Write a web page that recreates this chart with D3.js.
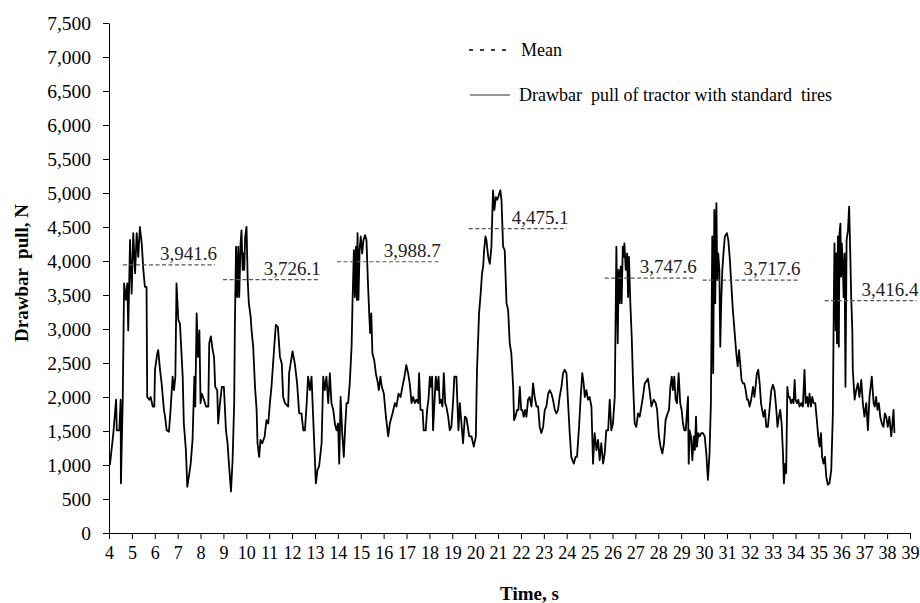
<!DOCTYPE html>
<html>
<head>
<meta charset="utf-8">
<script src="https://cdn.jsdelivr.net/npm/d3@7"></script>
<style>
  body { margin: 0; background: #fff; }
  svg text { white-space: pre; }
</style>
</head>
<body>
<svg id="chart"></svg>
<script>
let width = 920
let height = 603
const serif = "'Liberation Serif', 'Times New Roman', 'DejaVu Serif', serif"

// x axis ticks (s) and y axis ticks (N)
const timeTicks = d3.range(4, 40)
const pullTicks = d3.range(0, 7501, 500)

// mean drawbar pull for each pass: [start s, end s, mean N]
const meanStart = [4.61, 8.98, 13.96, 19.72, 25.66, 29.94, 35.27]
const meanEnd = [8.63, 13.17, 18.41, 24.0, 29.59, 34.13, 39.28]
const meanValue = [3941.6, 3726.1, 3988.7, 4475.1, 3747.6, 3717.6, 3416.4]

const legendLabels = ['Mean', 'Drawbar  pull of tractor with standard  tires']

// drawbar pull signal: [time s, pull N]
const pullSeries = [
  [4.04, 1000], [4.19, 1470], [4.31, 1960], [4.34, 1510], [4.45, 1510], [4.51, 1960],
  [4.52, 730], [4.6, 1960], [4.66, 3670], [4.74, 3430], [4.8, 3670], [4.84, 2980],
  [4.92, 4310], [4.99, 3520], [5.06, 4410], [5.14, 3820], [5.21, 4410], [5.28, 4060],
  [5.35, 4500], [5.43, 4260], [5.5, 3870], [5.57, 3620], [5.64, 3620], [5.67, 2000],
  [5.76, 1960], [5.82, 2000], [5.91, 1860], [5.98, 1860], [6.01, 2400], [6.11, 2640],
  [6.15, 2690], [6.23, 2400], [6.3, 2200], [6.4, 1810], [6.45, 1710], [6.52, 1510],
  [6.62, 1490], [6.69, 1810], [6.78, 2300], [6.84, 2100], [6.9, 2300], [6.95, 3670],
  [7.03, 3130], [7.1, 3080], [7.22, 2300], [7.27, 1610], [7.36, 1220], [7.42, 680],
  [7.51, 880], [7.57, 1020], [7.65, 1370], [7.73, 2300], [7.77, 1860], [7.83, 3230],
  [7.89, 2590], [7.95, 2980], [8.0, 1910], [8.05, 2050], [8.15, 1960], [8.24, 1860],
  [8.34, 1860], [8.38, 2790], [8.45, 2890], [8.53, 2690], [8.59, 2590], [8.64, 2150],
  [8.73, 2100], [8.77, 1610], [8.85, 1910], [8.93, 2150], [9.02, 2150], [9.11, 1510],
  [9.18, 1320], [9.24, 1020], [9.33, 610], [9.4, 1070], [9.47, 1910], [9.5, 3030],
  [9.55, 4210], [9.6, 3470], [9.65, 4210], [9.69, 3470], [9.75, 4260], [9.79, 4450],
  [9.84, 3870], [9.88, 4110], [9.91, 3870], [9.95, 4360], [10.01, 4500], [10.06, 3720],
  [10.11, 3380], [10.19, 3180], [10.23, 2980], [10.3, 2740], [10.38, 2150], [10.45, 1810],
  [10.49, 1320], [10.56, 1120], [10.62, 1370], [10.7, 1320], [10.8, 1420], [10.88, 1660],
  [10.96, 1610], [11.03, 1910], [11.1, 2150], [11.21, 2690], [11.29, 3060], [11.38, 3030],
  [11.47, 2590], [11.55, 2490], [11.61, 2000], [11.69, 1910], [11.83, 1860], [11.87, 2350],
  [12.02, 2670], [12.12, 2490], [12.22, 2200], [12.31, 1760], [12.41, 1760], [12.49, 1510],
  [12.56, 1510], [12.63, 1860], [12.7, 2300], [12.78, 2100], [12.85, 2300], [12.92, 1710],
  [13.04, 730], [13.11, 930], [13.18, 980], [13.29, 1320], [13.36, 2300], [13.43, 2100],
  [13.5, 2300], [13.58, 1910], [13.65, 2350], [13.72, 1910], [13.8, 1810], [13.87, 1610],
  [13.94, 1510], [14.01, 1610], [14.06, 1020], [14.12, 2000], [14.19, 1470], [14.26, 1120],
  [14.32, 1560], [14.38, 1910], [14.45, 1910], [14.52, 2200], [14.6, 2740], [14.64, 3380],
  [14.7, 4160], [14.74, 3470], [14.79, 4210], [14.83, 3430], [14.86, 4410], [14.9, 3430],
  [14.95, 4160], [15.0, 4360], [15.06, 4110], [15.12, 4310], [15.19, 4380], [15.25, 4310],
  [15.31, 3720], [15.37, 3230], [15.41, 2940], [15.46, 3230], [15.51, 2640], [15.59, 2540],
  [15.66, 2350], [15.75, 2200], [15.79, 2100], [15.86, 2300], [15.92, 2150], [16.01, 2050],
  [16.1, 1710], [16.2, 1420], [16.27, 1610], [16.39, 1760], [16.49, 1910], [16.56, 1860],
  [16.65, 2050], [16.74, 2000], [16.82, 2150], [16.91, 2300], [16.99, 2470], [17.07, 2350],
  [17.14, 2200], [17.22, 1910], [17.29, 2000], [17.36, 1910], [17.43, 1960], [17.51, 1910],
  [17.55, 2350], [17.61, 1810], [17.7, 1810], [17.75, 1510], [17.84, 1510], [17.9, 1810],
  [17.96, 1960], [18.02, 2300], [18.06, 2150], [18.12, 2300], [18.16, 1510], [18.22, 1910],
  [18.28, 2300], [18.34, 2100], [18.4, 2300], [18.45, 1910], [18.51, 1960], [18.57, 1860],
  [18.63, 2350], [18.69, 1910], [18.74, 1860], [18.82, 1710], [18.89, 1510], [18.96, 1560],
  [19.04, 1960], [19.09, 2300], [19.18, 2300], [19.27, 1510], [19.33, 1910], [19.47, 1320],
  [19.55, 1710], [19.62, 1690], [19.74, 1420], [19.84, 1420], [19.94, 1270], [20.03, 1420],
  [20.08, 2400], [20.17, 3230], [20.24, 3520], [20.3, 3820], [20.35, 3920], [20.39, 4160],
  [20.45, 4360], [20.49, 4310], [20.57, 4060], [20.64, 3960], [20.71, 4210], [20.75, 4700],
  [20.78, 5040], [20.84, 4750], [20.9, 4940], [20.97, 4900], [21.05, 4990], [21.1, 5040],
  [21.15, 4900], [21.22, 4210], [21.29, 4160], [21.37, 3380], [21.44, 3280], [21.51, 2790],
  [21.58, 2640], [21.66, 2150], [21.7, 1660], [21.76, 1710], [21.83, 1810], [21.89, 1810],
  [21.95, 2150], [22.01, 1810], [22.06, 1810], [22.12, 1710], [22.18, 1810], [22.24, 1710],
  [22.31, 1960], [22.38, 2000], [22.46, 1860], [22.53, 2200], [22.6, 2000], [22.68, 1860],
  [22.75, 1860], [22.82, 1560], [22.89, 1470], [22.97, 1560], [23.04, 1810], [23.11, 1860],
  [23.19, 2050], [23.26, 2100], [23.33, 2050], [23.4, 1960], [23.48, 1810], [23.55, 1760],
  [23.62, 1810], [23.69, 2000], [23.77, 2150], [23.84, 2350], [23.91, 2400], [23.99, 2350],
  [24.06, 1910], [24.13, 1470], [24.2, 1120], [24.31, 1020], [24.39, 1120], [24.45, 1120],
  [24.54, 1560], [24.61, 2000], [24.68, 2350], [24.74, 2200], [24.79, 2000], [24.86, 2100],
  [24.93, 1960], [25.0, 2000], [25.08, 1860], [25.15, 1020], [25.22, 1470], [25.3, 1220],
  [25.37, 1370], [25.44, 1070], [25.51, 1320], [25.59, 1020], [25.66, 1170], [25.73, 1510],
  [25.81, 1510], [25.88, 1960], [25.95, 1510], [26.02, 1610], [26.1, 2000], [26.17, 4210],
  [26.23, 2790], [26.27, 3870], [26.31, 3380], [26.36, 3920], [26.4, 3380], [26.45, 4210],
  [26.49, 4060], [26.52, 4260], [26.58, 3870], [26.64, 4110], [26.68, 3470], [26.72, 4060],
  [26.78, 3380], [26.84, 2890], [26.9, 2200], [26.97, 1610], [27.04, 1560], [27.12, 1760],
  [27.19, 1710], [27.33, 2000], [27.41, 2200], [27.55, 2270], [27.62, 2100], [27.7, 1860],
  [27.8, 1960], [27.89, 1910], [27.95, 1810], [28.03, 1420], [28.1, 1270], [28.18, 1170],
  [28.25, 1320], [28.32, 1660], [28.41, 1760], [28.47, 1810], [28.53, 2150], [28.59, 2300],
  [28.64, 2100], [28.7, 2300], [28.76, 1960], [28.82, 1910], [28.89, 2350], [28.96, 1910],
  [29.02, 1810], [29.08, 1610], [29.14, 1510], [29.2, 1510], [29.26, 1810], [29.3, 2000],
  [29.33, 1020], [29.37, 1510], [29.43, 1420], [29.49, 1070], [29.55, 1420], [29.6, 1220],
  [29.65, 1710], [29.69, 1270], [29.75, 1470], [29.81, 1420], [29.88, 1470], [29.95, 1470],
  [30.03, 1420], [30.1, 1170], [30.17, 780], [30.24, 1170], [30.3, 1910], [30.36, 4360],
  [30.4, 2350], [30.45, 4750], [30.49, 3380], [30.54, 4850], [30.58, 3720], [30.62, 4110],
  [30.67, 3870], [30.71, 2740], [30.75, 3380], [30.8, 3870], [30.86, 4160], [30.91, 4360],
  [31.0, 4410], [31.06, 4310], [31.12, 4060], [31.19, 3670], [31.26, 3280], [31.34, 2940],
  [31.41, 2640], [31.47, 2450], [31.53, 2690], [31.58, 2490], [31.64, 2250], [31.7, 2200],
  [31.76, 2200], [31.82, 2100], [31.88, 1960], [31.93, 1960], [31.99, 1860], [32.06, 1960],
  [32.14, 2150], [32.2, 2000], [32.25, 2150], [32.31, 2350], [32.37, 2400], [32.43, 2200],
  [32.49, 1910], [32.54, 1810], [32.6, 1710], [32.66, 1810], [32.72, 1560], [32.79, 1560],
  [32.86, 1810], [32.94, 2100], [33.01, 2180], [33.08, 2100], [33.16, 1810], [33.21, 1560],
  [33.27, 1710], [33.33, 1810], [33.39, 1610], [33.45, 1170], [33.49, 730], [33.55, 1020],
  [33.59, 880], [33.64, 2150], [33.69, 2000], [33.74, 2000], [33.8, 1910], [33.85, 1960],
  [33.91, 1910], [33.96, 2250], [34.0, 1960], [34.06, 1910], [34.12, 1960], [34.17, 1860],
  [34.25, 1910], [34.32, 1860], [34.39, 2400], [34.44, 1910], [34.5, 2000], [34.55, 1860],
  [34.61, 2050], [34.67, 1860], [34.73, 2000], [34.79, 1910], [34.86, 1910], [34.93, 1660],
  [34.99, 1420], [35.05, 1270], [35.11, 1470], [35.16, 1120], [35.22, 1020], [35.28, 1120],
  [35.34, 830], [35.41, 710], [35.48, 730], [35.56, 930], [35.63, 1760], [35.67, 3380],
  [35.7, 4260], [35.75, 2980], [35.78, 4110], [35.81, 2790], [35.85, 4360], [35.89, 2740],
  [35.92, 4410], [35.96, 4550], [35.99, 3770], [36.02, 4260], [36.07, 3870], [36.1, 3470],
  [36.14, 4110], [36.18, 2150], [36.23, 4310], [36.29, 4450], [36.34, 4800], [36.39, 4110],
  [36.43, 3470], [36.48, 2980], [36.5, 2400], [36.58, 1960], [36.65, 2100], [36.72, 2200],
  [36.79, 2000], [36.87, 2250], [36.94, 1910], [37.01, 1710], [37.09, 1910], [37.16, 1510],
  [37.23, 2000], [37.33, 2300], [37.41, 1910], [37.46, 1860], [37.52, 2000], [37.58, 1810],
  [37.64, 1910], [37.7, 1710], [37.77, 1610], [37.84, 1560], [37.9, 1760], [37.96, 1710],
  [38.03, 1560], [38.1, 1710], [38.18, 1420], [38.22, 1560], [38.28, 1810], [38.32, 1470],
]

const svg = d3
  .select('#chart')
  .attr('width', width)
  .attr('height', height)
  .attr('viewBox', [0, 0, width, height])
  .attr('font-family', serif)

const margin = { top: 23, right: 10, bottom: 70, left: 109 }

const x = d3
  .scaleLinear()
  .domain([4, 39])
  .range([margin.left, width - margin.right])

const y = d3
  .scaleLinear()
  .domain([0, 7500])
  .range([height - margin.bottom, margin.top])

// --------------------------------------------------------------
// Axes
const xAxis = svg
  .append('g')
  .attr('transform', `translate(0,${y(0)})`)
  .call(
    d3.axisBottom(x).tickValues(timeTicks).tickFormat(d3.format('d')).tickSize(6).tickSizeOuter(0)
  )
  .attr('font-family', serif)
xAxis.select('.domain').attr('stroke', '#000')
xAxis
  .selectAll('text')
  .attr('font-size', 18)
  .attr('fill', '#000')
  .attr('dy', '0.95em')

const yAxis = svg
  .append('g')
  .attr('transform', `translate(${x(4)},0)`)
  .call(d3.axisLeft(y).tickValues(pullTicks).tickFormat(d3.format(',')).tickSize(6).tickSizeOuter(0))
  .attr('font-family', serif)
yAxis.select('.domain').attr('stroke', '#000')
yAxis
  .selectAll('text')
  .attr('font-size', 19.5)
  .attr('fill', '#000')
  .attr('x', -18)

// axis titles
svg
  .append('text')
  .attr('x', (x(4) + x(39)) / 2 + 20)
  .attr('y', 600)
  .attr('text-anchor', 'middle')
  .attr('font-size', 19)
  .attr('font-weight', 'bold')
  .text('Time, s')

svg
  .append('text')
  .attr('transform', `translate(28,${273}) rotate(-90)`)
  .attr('text-anchor', 'middle')
  .attr('font-size', 19)
  .attr('font-weight', 'bold')
  .text('Drawbar  pull, N')

// --------------------------------------------------------------
// Signal
const line = d3
  .line()
  .x((d) => x(d[0]))
  .y((d) => y(d[1]))

svg
  .append('path')
  .datum(pullSeries)
  .attr('d', line)
  .attr('fill', 'none')
  .attr('stroke', '#000')
  .attr('stroke-width', 1.8)
  .attr('stroke-linejoin', 'round')

// --------------------------------------------------------------
// Mean lines + labels
const means = meanValue.map((v, i) => ({ start: meanStart[i], end: meanEnd[i], value: v }))

const meanGroup = svg.append('g').attr('class', 'means')

meanGroup
  .selectAll('line')
  .data(means)
  .join('line')
  .attr('x1', (d) => x(d.start))
  .attr('x2', (d) => x(d.end))
  .attr('y1', (d) => y(d.value))
  .attr('y2', (d) => y(d.value))
  .attr('stroke', '#555')
  .attr('stroke-width', 1.2)
  .attr('stroke-dasharray', '4,2.5')

meanGroup
  .selectAll('text')
  .data(means)
  .join('text')
  .attr('x', (d) => x(d.end) + 2)
  .attr('y', (d) => y(d.value) - 5)
  .attr('text-anchor', 'end')
  .attr('font-size', 19)
  .attr('fill', '#222')
  .text((d) => d3.format(',.1f')(d.value))

// --------------------------------------------------------------
// Legend
const legend = svg.append('g').attr('class', 'legend')

legend
  .append('line')
  .attr('x1', 469)
  .attr('x2', 509)
  .attr('y1', 50)
  .attr('y2', 50)
  .attr('stroke', '#000')
  .attr('stroke-width', 1.5)
  .attr('stroke-dasharray', '4,7')

legend
  .append('line')
  .attr('x1', 470)
  .attr('x2', 510)
  .attr('y1', 95)
  .attr('y2', 95)
  .attr('stroke', '#333')
  .attr('stroke-width', 1.2)

legend
  .selectAll('text')
  .data(legendLabels)
  .join('text')
  .attr('x', (d, i) => (i === 0 ? 521 : 519))
  .attr('y', (d, i) => (i === 0 ? 50 : 95))
  .attr('dy', '0.35em')
  .attr('font-size', 18)
  .attr('fill', '#000')
  .text((d) => d)
</script>
</body>
</html>
